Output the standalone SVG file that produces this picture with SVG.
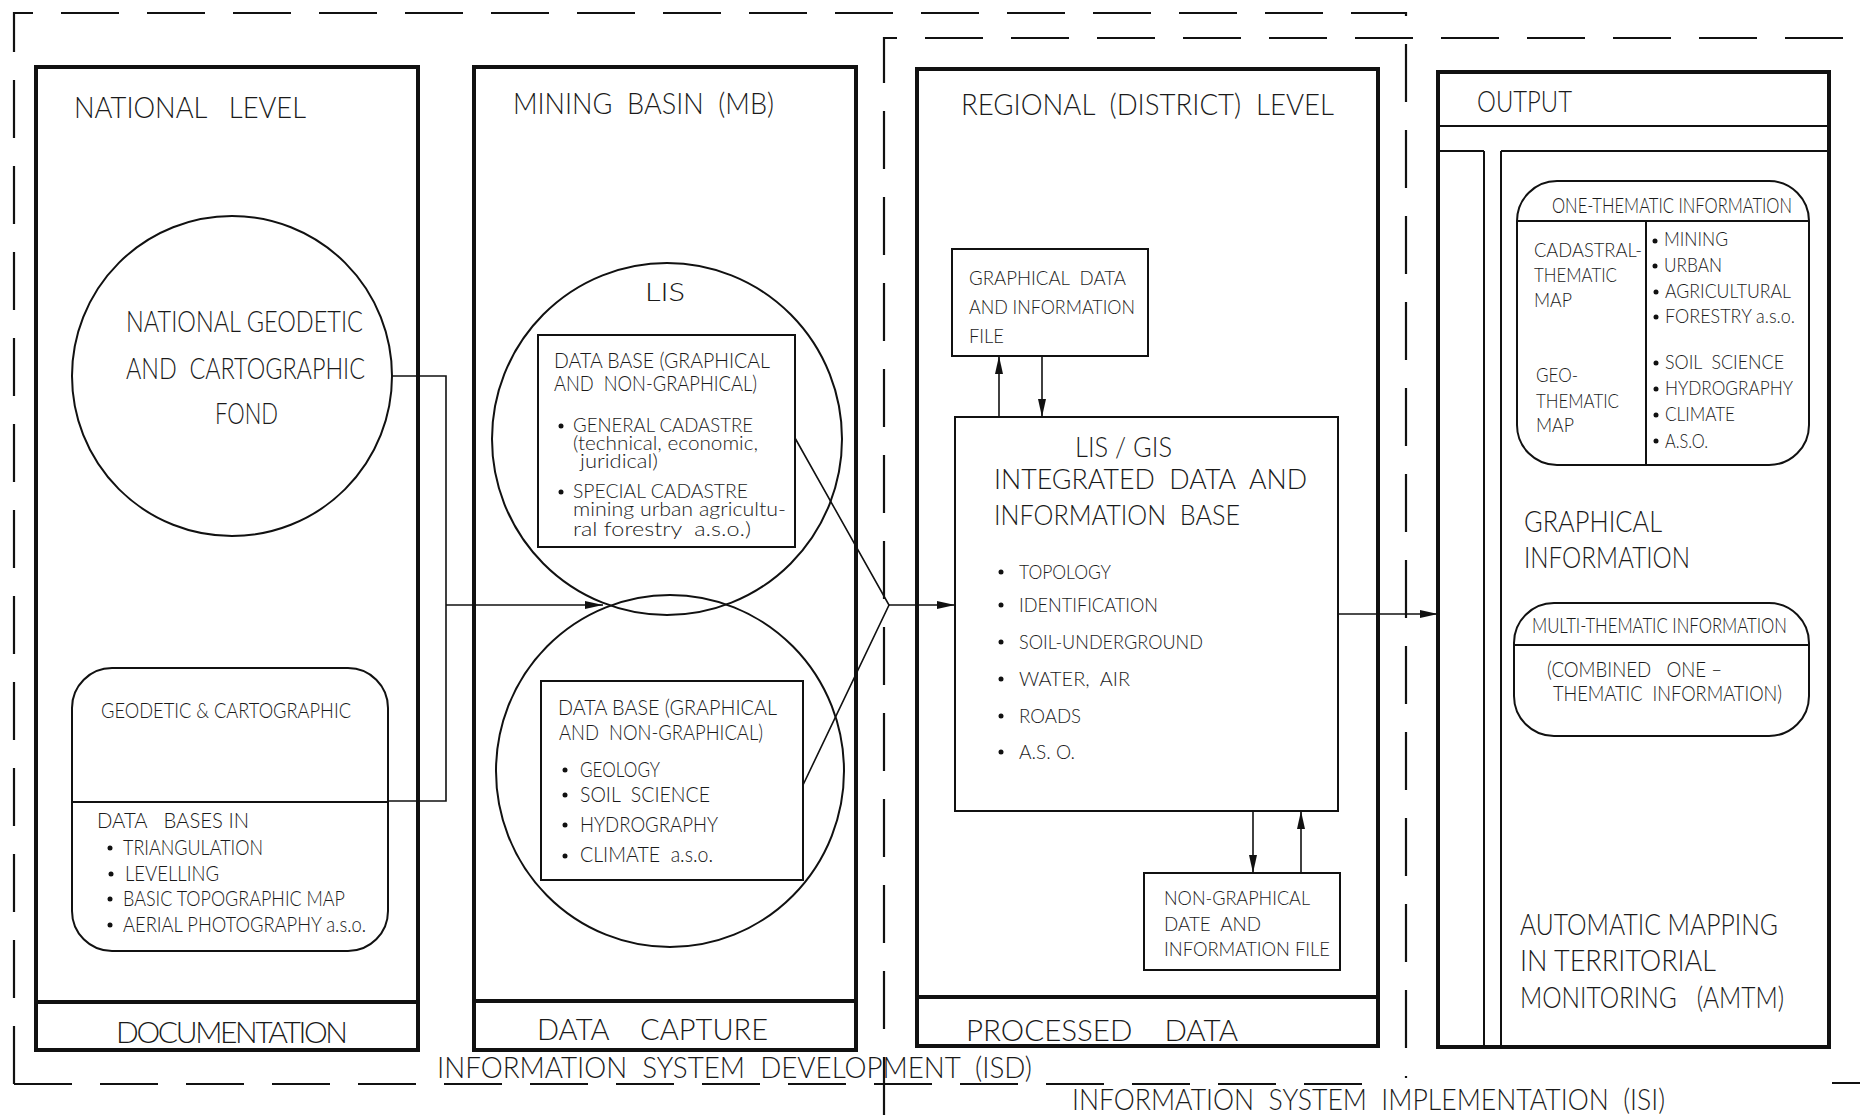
<svg xmlns="http://www.w3.org/2000/svg" width="1860" height="1115" viewBox="0 0 1860 1115" xml:space="preserve">
<defs>
<style>
.t{font-family:Lato,"Open Sans","DejaVu Sans",sans-serif;font-weight:300;fill:#1a1a1a;white-space:pre}
.b{font-size:30px}
.m{font-size:21px}
.s{font-size:20px}
.l{font-size:19px}
.panel{fill:none;stroke:#111;stroke-width:4}
.thin{fill:none;stroke:#111;stroke-width:2}
.dash{fill:none;stroke:#111;stroke-width:2.2;stroke-dasharray:58 28}
.conn{fill:none;stroke:#111;stroke-width:1.6}
.dot{fill:#111}
</style>
<marker id="ah" markerUnits="userSpaceOnUse" markerWidth="18" markerHeight="8" refX="18" refY="4" orient="auto">
<path d="M0,0 L18,4 L0,8 Z" fill="#111"/>
</marker>
</defs>
<rect width="1860" height="1115" fill="#fff"/>

<g id="isd-boundary">
<path class="dash" d="M14,1084 V13 H1406 V1078"/>
<path class="dash" d="M14,1084 H1372"/>
<text class="t b" x="437" y="1078" textLength="595" lengthAdjust="spacingAndGlyphs">INFORMATION  SYSTEM  DEVELOPMENT  (ISD)</text>
</g>
<g id="isi-boundary">
<path class="dash" d="M884,1115 V38 H1860"/>
<line class="thin" x1="1832" y1="1083" x2="1860" y2="1083"/>
<text class="t b" x="1072" y="1110" textLength="593" lengthAdjust="spacingAndGlyphs">INFORMATION  SYSTEM  IMPLEMENTATION  (ISI)</text>
</g>

<g id="national-level">
<rect class="panel" x="36" y="67" width="382" height="983"/>
<line class="panel" x1="36" y1="1002" x2="418" y2="1002"/>
<text class="t b" x="74" y="118" textLength="232" lengthAdjust="spacingAndGlyphs">NATIONAL   LEVEL</text>
<text class="t b" x="116" y="1043" textLength="232" lengthAdjust="spacing">DOCUMENTATION</text>
</g>
<g id="national-fond">
<ellipse class="thin" cx="232" cy="376" rx="160" ry="160"/>
<text class="t b" x="126" y="332" textLength="237" lengthAdjust="spacingAndGlyphs">NATIONAL GEODETIC</text>
<text class="t b" x="126" y="379" textLength="239" lengthAdjust="spacingAndGlyphs">AND  CARTOGRAPHIC</text>
<text class="t b" x="215" y="424" textLength="63" lengthAdjust="spacingAndGlyphs">FOND</text>
</g>
<g id="geodetic-databases">
<rect class="thin" x="72" y="668" width="316" height="283" rx="40" ry="40"/>
<line class="thin" x1="72" y1="802" x2="388" y2="802"/>
<text class="t m" x="101" y="718" textLength="250" lengthAdjust="spacingAndGlyphs">GEODETIC &amp; CARTOGRAPHIC</text>
<text class="t m" x="97" y="828" textLength="152" lengthAdjust="spacingAndGlyphs">DATA   BASES IN</text>
<circle class="dot" cx="110" cy="848" r="2.5"/>
<text class="t m" x="123" y="855" textLength="140" lengthAdjust="spacingAndGlyphs">TRIANGULATION</text>
<circle class="dot" cx="111" cy="874" r="2.5"/>
<text class="t m" x="125" y="881" textLength="94" lengthAdjust="spacingAndGlyphs">LEVELLING</text>
<circle class="dot" cx="110" cy="899" r="2.5"/>
<text class="t m" x="123" y="906" textLength="222" lengthAdjust="spacingAndGlyphs">BASIC TOPOGRAPHIC MAP</text>
<circle class="dot" cx="110" cy="925" r="2.5"/>
<text class="t m" x="123" y="932" textLength="243" lengthAdjust="spacingAndGlyphs">AERIAL PHOTOGRAPHY a.s.o.</text>
</g>

<g id="mining-basin">
<rect class="panel" x="474" y="67" width="382" height="983"/>
<line class="panel" x1="474" y1="1001" x2="856" y2="1001"/>
<text class="t b" x="513" y="114" textLength="261" lengthAdjust="spacingAndGlyphs">MINING  BASIN  (MB)</text>
<text class="t b" x="537" y="1040" textLength="231" lengthAdjust="spacingAndGlyphs">DATA    CAPTURE</text>
</g>
<g id="lis-cadastre">
<ellipse class="thin" cx="667" cy="439" rx="175" ry="176"/>
<text class="t" font-size="25" x="645" y="301" textLength="40" lengthAdjust="spacingAndGlyphs">LIS</text>
<rect class="thin" x="538" y="335" width="257" height="212"/>
<text class="t m" x="554" y="368" textLength="216" lengthAdjust="spacingAndGlyphs">DATA BASE (GRAPHICAL</text>
<text class="t m" x="554" y="391" textLength="203" lengthAdjust="spacingAndGlyphs">AND  NON-GRAPHICAL)</text>
<circle class="dot" cx="561" cy="426" r="2.5"/>
<text class="t l" x="573" y="432" textLength="180" lengthAdjust="spacingAndGlyphs">GENERAL CADASTRE</text>
<text class="t l" x="573" y="450" textLength="185" lengthAdjust="spacingAndGlyphs">(technical, economic,</text>
<text class="t l" x="580" y="468" textLength="78" lengthAdjust="spacingAndGlyphs">juridical)</text>
<circle class="dot" cx="561" cy="492" r="2.5"/>
<text class="t l" x="573" y="498" textLength="175" lengthAdjust="spacingAndGlyphs">SPECIAL CADASTRE</text>
<text class="t l" x="573" y="516" textLength="213" lengthAdjust="spacingAndGlyphs">mining urban agricultu-</text>
<text class="t l" x="573" y="536" textLength="178" lengthAdjust="spacingAndGlyphs">ral forestry  a.s.o.)</text>
</g>
<g id="thematic-databases">
<ellipse class="thin" cx="670" cy="771" rx="174" ry="176"/>
<rect class="thin" x="541" y="681" width="262" height="199"/>
<text class="t m" x="558" y="715" textLength="219" lengthAdjust="spacingAndGlyphs">DATA BASE (GRAPHICAL</text>
<text class="t m" x="559" y="740" textLength="204" lengthAdjust="spacingAndGlyphs">AND  NON-GRAPHICAL)</text>
<circle class="dot" cx="565" cy="770" r="2.5"/>
<text class="t m" x="580" y="777" textLength="80" lengthAdjust="spacingAndGlyphs">GEOLOGY</text>
<circle class="dot" cx="565" cy="795" r="2.5"/>
<text class="t m" x="580" y="802" textLength="130" lengthAdjust="spacingAndGlyphs">SOIL  SCIENCE</text>
<circle class="dot" cx="565" cy="825" r="2.5"/>
<text class="t m" x="580" y="832" textLength="138" lengthAdjust="spacingAndGlyphs">HYDROGRAPHY</text>
<circle class="dot" cx="565" cy="856" r="2.5"/>
<text class="t m" x="580" y="862" textLength="133" lengthAdjust="spacingAndGlyphs">CLIMATE  a.s.o.</text>
</g>

<g id="regional-level">
<rect class="panel" x="917" y="69" width="461" height="977"/>
<line class="panel" x1="917" y1="997" x2="1378" y2="997"/>
<text class="t b" x="961" y="115" textLength="373" lengthAdjust="spacingAndGlyphs">REGIONAL  (DISTRICT)  LEVEL</text>
<text class="t b" x="966" y="1041" textLength="272" lengthAdjust="spacingAndGlyphs">PROCESSED    DATA</text>
</g>
<g id="graphical-file">
<rect class="thin" x="952" y="249" width="196" height="107"/>
<text class="t s" x="969" y="285" textLength="157" lengthAdjust="spacingAndGlyphs">GRAPHICAL  DATA</text>
<text class="t s" x="969" y="314" textLength="166" lengthAdjust="spacingAndGlyphs">AND INFORMATION</text>
<text class="t s" x="969" y="343" textLength="35" lengthAdjust="spacingAndGlyphs">FILE</text>
</g>
<g id="lis-gis">
<rect class="thin" x="955" y="417" width="383" height="394"/>
<text class="t" font-size="27" x="1075" y="457" textLength="97" lengthAdjust="spacingAndGlyphs">LIS / GIS</text>
<text class="t" font-size="27" x="994" y="489" textLength="313" lengthAdjust="spacingAndGlyphs">INTEGRATED  DATA  AND</text>
<text class="t" font-size="27" x="994" y="525" textLength="246" lengthAdjust="spacingAndGlyphs">INFORMATION  BASE</text>
<circle class="dot" cx="1001" cy="572" r="2.5"/>
<text class="t s" x="1019" y="579" textLength="92" lengthAdjust="spacingAndGlyphs">TOPOLOGY</text>
<circle class="dot" cx="1001" cy="605" r="2.5"/>
<text class="t s" x="1019" y="612" textLength="139" lengthAdjust="spacingAndGlyphs">IDENTIFICATION</text>
<circle class="dot" cx="1001" cy="642" r="2.5"/>
<text class="t s" x="1019" y="649" textLength="184" lengthAdjust="spacingAndGlyphs">SOIL-UNDERGROUND</text>
<circle class="dot" cx="1001" cy="679" r="2.5"/>
<text class="t s" x="1019" y="686" textLength="111" lengthAdjust="spacingAndGlyphs">WATER,  AIR</text>
<circle class="dot" cx="1001" cy="716" r="2.5"/>
<text class="t s" x="1019" y="723" textLength="62" lengthAdjust="spacingAndGlyphs">ROADS</text>
<circle class="dot" cx="1001" cy="752" r="2.5"/>
<text class="t s" x="1019" y="759" textLength="56" lengthAdjust="spacingAndGlyphs">A.S. O.</text>
</g>
<g id="non-graphical-file">
<rect class="thin" x="1144" y="873" width="196" height="97"/>
<text class="t s" x="1164" y="905" textLength="146" lengthAdjust="spacingAndGlyphs">NON-GRAPHICAL</text>
<text class="t s" x="1164" y="931" textLength="97" lengthAdjust="spacingAndGlyphs">DATE  AND</text>
<text class="t s" x="1164" y="956" textLength="166" lengthAdjust="spacingAndGlyphs">INFORMATION FILE</text>
</g>

<g id="output">
<rect class="panel" x="1438" y="72" width="391" height="975"/>
<line class="thin" x1="1438" y1="126" x2="1829" y2="126"/>
<line class="thin" x1="1438" y1="151" x2="1484" y2="151"/>
<line class="thin" x1="1501" y1="151" x2="1829" y2="151"/>
<line class="thin" x1="1484" y1="151" x2="1484" y2="1047"/>
<line class="thin" x1="1501" y1="151" x2="1501" y2="1047"/>
<text class="t b" x="1477" y="112" textLength="95" lengthAdjust="spacingAndGlyphs">OUTPUT</text>
<text class="t b" x="1524" y="532" textLength="138" lengthAdjust="spacingAndGlyphs">GRAPHICAL</text>
<text class="t b" x="1524" y="568" textLength="166" lengthAdjust="spacingAndGlyphs">INFORMATION</text>
<text class="t b" x="1520" y="935" textLength="258" lengthAdjust="spacingAndGlyphs">AUTOMATIC MAPPING</text>
<text class="t b" x="1520" y="971" textLength="196" lengthAdjust="spacingAndGlyphs">IN TERRITORIAL</text>
<text class="t b" x="1520" y="1008" textLength="264" lengthAdjust="spacingAndGlyphs">MONITORING   (AMTM)</text>
</g>
<g id="one-thematic">
<rect class="thin" x="1517" y="181" width="292" height="284" rx="40" ry="40"/>
<line class="thin" x1="1517" y1="221" x2="1809" y2="221"/>
<line class="thin" x1="1646" y1="221" x2="1646" y2="465"/>
<text class="t m" x="1552" y="213" textLength="240" lengthAdjust="spacingAndGlyphs">ONE-THEMATIC INFORMATION</text>
<text class="t s" x="1534" y="257" textLength="108" lengthAdjust="spacingAndGlyphs">CADASTRAL-</text>
<text class="t s" x="1534" y="282" textLength="83" lengthAdjust="spacingAndGlyphs">THEMATIC</text>
<text class="t s" x="1534" y="307" textLength="38" lengthAdjust="spacingAndGlyphs">MAP</text>
<text class="t s" x="1536" y="382" textLength="42" lengthAdjust="spacingAndGlyphs">GEO-</text>
<text class="t s" x="1536" y="408" textLength="83" lengthAdjust="spacingAndGlyphs">THEMATIC</text>
<text class="t s" x="1536" y="432" textLength="38" lengthAdjust="spacingAndGlyphs">MAP</text>
<circle class="dot" cx="1655" cy="241" r="2.5"/>
<text class="t s" x="1664" y="246" textLength="64" lengthAdjust="spacingAndGlyphs">MINING</text>
<circle class="dot" cx="1655" cy="266" r="2.5"/>
<text class="t s" x="1664" y="272" textLength="58" lengthAdjust="spacingAndGlyphs">URBAN</text>
<circle class="dot" cx="1656" cy="292" r="2.5"/>
<text class="t s" x="1665" y="298" textLength="126" lengthAdjust="spacingAndGlyphs">AGRICULTURAL</text>
<circle class="dot" cx="1656" cy="317" r="2.5"/>
<text class="t s" x="1665" y="323" textLength="130" lengthAdjust="spacingAndGlyphs">FORESTRY a.s.o.</text>
<circle class="dot" cx="1656" cy="363" r="2.5"/>
<text class="t s" x="1665" y="369" textLength="119" lengthAdjust="spacingAndGlyphs">SOIL  SCIENCE</text>
<circle class="dot" cx="1656" cy="389" r="2.5"/>
<text class="t s" x="1665" y="395" textLength="128" lengthAdjust="spacingAndGlyphs">HYDROGRAPHY</text>
<circle class="dot" cx="1656" cy="415" r="2.5"/>
<text class="t s" x="1665" y="421" textLength="70" lengthAdjust="spacingAndGlyphs">CLIMATE</text>
<circle class="dot" cx="1656" cy="441" r="2.5"/>
<text class="t s" x="1665" y="448" textLength="43" lengthAdjust="spacingAndGlyphs">A.S.O.</text>
</g>
<g id="multi-thematic">
<rect class="thin" x="1514" y="603" width="295" height="133" rx="40" ry="40"/>
<line class="thin" x1="1514" y1="645" x2="1809" y2="645"/>
<text class="t m" x="1532" y="633" textLength="255" lengthAdjust="spacingAndGlyphs">MULTI-THEMATIC INFORMATION</text>
<text class="t m" x="1547" y="677" textLength="175" lengthAdjust="spacingAndGlyphs">(COMBINED   ONE –</text>
<text class="t m" x="1553" y="701" textLength="229" lengthAdjust="spacingAndGlyphs">THEMATIC  INFORMATION)</text>
</g>

<g id="connectors">
<path class="conn" d="M392,376 H446 V801 H388"/>
<path class="conn" d="M446,605 H603" marker-end="url(#ah)"/>
<path class="conn" d="M795,438 L889,605 L803,785"/>
<path class="conn" d="M889,605 H955" marker-end="url(#ah)"/>
<path class="conn" d="M999,417 V356" marker-end="url(#ah)"/>
<path class="conn" d="M1042,356 V417" marker-end="url(#ah)"/>
<path class="conn" d="M1253,811 V873" marker-end="url(#ah)"/>
<path class="conn" d="M1301,873 V811" marker-end="url(#ah)"/>
<path class="conn" d="M1338,614 H1438" marker-end="url(#ah)"/>
</g>
</svg>
